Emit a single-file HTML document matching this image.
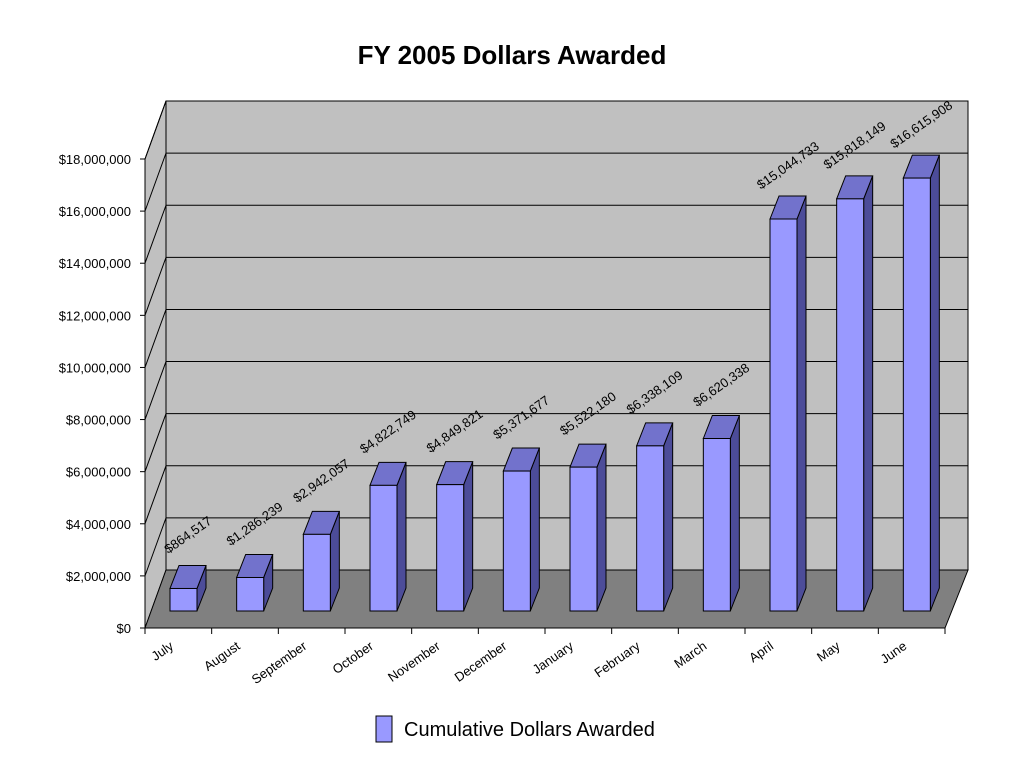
<!DOCTYPE html>
<html><head><meta charset="utf-8"><style>body{margin:0;background:#fff}svg{display:block;font-family:"Liberation Sans",Arial,sans-serif}</style></head>
<body>
<svg id="chart" width="1024" height="768" viewBox="0 0 1024 768">
<text x="512" y="64" text-anchor="middle" font-size="26" font-weight="bold">FY 2005 Dollars Awarded</text>
<g id="walls"></g><g id="grid"></g><g id="axes"></g><g id="bars"></g><g id="labels"></g>
<g>
<rect x="376" y="716" width="16" height="26" fill="#9999ff" stroke="#000"/>
<text x="404" y="736" font-size="20">Cumulative Dollars Awarded</text>
</g>
</svg>
<script>
const categories=["July","August","September","October","November","December","January","February","March","April","May","June"];
const values=[864517,1286239,2942057,4822749,4849821,5371677,5522180,6338109,6620338,15044733,15818149,16615908];
const valueLabels=["$864,517","$1,286,239","$2,942,057","$4,822,749","$4,849,821","$5,371,677","$5,522,180","$6,338,109","$6,620,338","$15,044,733","$15,818,149","$16,615,908"];
const yTicks=[0,2000000,4000000,6000000,8000000,10000000,12000000,14000000,16000000,18000000];
const yTickLabels=["$0","$2,000,000","$4,000,000","$6,000,000","$8,000,000","$10,000,000","$12,000,000","$14,000,000","$16,000,000","$18,000,000"];
const NS="http://www.w3.org/2000/svg";
const X0=145,X1=945,Y0=628,YMAX=18000000,PX=469,DX=21,DY=-58;
const step=(X1-X0)/categories.length;
function yF(v){return Y0-v/YMAX*PX;}
function mk(p,tag,a){const e=document.createElementNS(NS,tag);for(const k in a)e.setAttribute(k,a[k]);p.appendChild(e);return e;}
const walls=document.getElementById('walls'),grid=document.getElementById('grid'),axes=document.getElementById('axes'),bars=document.getElementById('bars'),labels=document.getElementById('labels');
let e=mk(walls,'polygon',{points:`${X0+DX},${yF(YMAX)+DY} ${X1+DX+2},${yF(YMAX)+DY} ${X1+DX+2},${Y0+DY} ${X0+DX},${Y0+DY}`,fill:'#c0c0c0',stroke:'#000'});

e=mk(walls,'polygon',{points:`${X0},${yF(YMAX)} ${X0+DX},${yF(YMAX)+DY} ${X0+DX},${Y0+DY} ${X0},${Y0}`,fill:'#c0c0c0',stroke:'#000'});

e=mk(walls,'polygon',{points:`${X0},${Y0} ${X0+DX},${Y0+DY} ${X1+DX+2},${Y0+DY} ${X1},${Y0}`,fill:'#808080',stroke:'#000'});

yTicks.forEach((v,i)=>{const y=yF(v);
 if(i>0){let g=mk(grid,'polyline',{points:`${X0},${y} ${X0+DX},${y+DY} ${X1+DX+2},${y+DY}`,fill:'none',stroke:'#000','stroke-width':1});
 }
 let t=mk(axes,'line',{x1:X0-5,y1:y,x2:X0,y2:y,stroke:'#000'});
 
 let l=mk(axes,'text',{x:131,y:y+5,'text-anchor':'end','font-size':13});l.textContent=yTickLabels[i];
 });
e=mk(axes,'line',{x1:X0,y1:yF(YMAX),x2:X0,y2:Y0,stroke:'#000'});
e=mk(axes,'line',{x1:X0,y1:Y0,x2:X1,y2:Y0,stroke:'#000'});
for(let i=0;i<=categories.length;i++){const x=X0+i*step;let t=mk(axes,'line',{x1:x,y1:Y0,x2:x,y2:Y0+6,stroke:'#000'});
 }
const BW=27,BDX=9,BDY=-23,BASE=611;
categories.forEach((c,i)=>{const bl=X0+i*step+25,br=bl+BW,h=values[i]/YMAX*PX,top=BASE-h;
 const g=mk(bars,'g',{});
 mk(g,'polygon',{points:`${br},${BASE} ${br+BDX},${BASE+BDY} ${br+BDX},${top+BDY} ${br},${top}`,fill:'#4c4c99',stroke:'#000'});
 mk(g,'polygon',{points:`${bl},${top} ${bl+BDX},${top+BDY} ${br+BDX},${top+BDY} ${br},${top}`,fill:'#7272cc',stroke:'#000'});
 mk(g,'rect',{x:bl,y:top,width:BW,height:h,fill:'#9999ff',stroke:'#000'});
 const cx=bl+BW/2+7,cy=top-50;
 let v=mk(labels,'text',{x:cx,y:cy,'text-anchor':'middle','font-size':13,transform:`rotate(-35 ${cx} ${cy})`});v.textContent=valueLabels[i];
 
 const lx=X0+(i+0.5)*step-4,ly=648;
 let l=mk(labels,'text',{x:lx,y:ly,'text-anchor':'end','font-size':13,transform:`rotate(-35 ${lx} ${ly})`});l.textContent=c;
 });
</script>
</body></html>
